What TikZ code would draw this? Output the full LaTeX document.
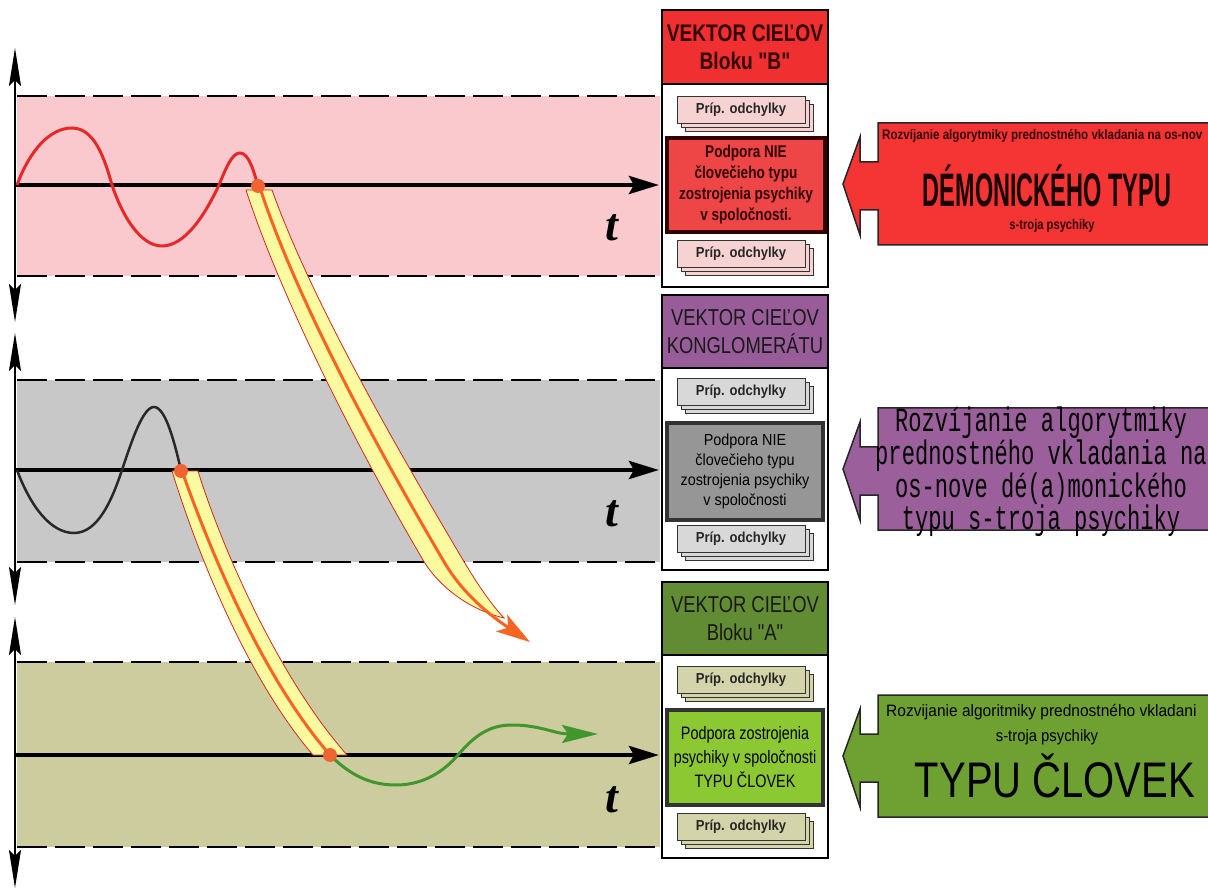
\documentclass[tikz,border=0pt]{standalone}
\usepackage{fontspec}
\setmainfont{Liberation Sans}
\newfontfamily\condA[FakeStretch=0.8]{Liberation Sans}
\newfontfamily\condB[FakeStretch=0.9]{Liberation Sans}
\newfontfamily\condC[FakeStretch=0.84]{Liberation Sans}
\newfontfamily\condD[FakeStretch=0.94]{Liberation Sans}
\newfontfamily\xcond[FakeStretch=0.5]{Liberation Sans}
\newfontfamily\monof[FakeStretch=0.65]{Liberation Mono}
\newfontfamily\tfont{Liberation Serif}
\usetikzlibrary{arrows.meta,shadows}
\definecolor{bandpink}{RGB}{249,201,205}
\definecolor{bandgray}{RGB}{200,200,200}
\definecolor{bandkhaki}{RGB}{204,204,158}
\definecolor{hdrred}{RGB}{240,48,48}
\definecolor{mainred}{RGB}{238,70,70}
\definecolor{devred}{RGB}{246,210,210}
\definecolor{hdrpurple}{RGB}{152,92,152}
\definecolor{maingray}{RGB}{150,150,150}
\definecolor{devgray}{RGB}{216,216,216}
\definecolor{hdrgreen}{RGB}{98,140,52}
\definecolor{maingreen}{RGB}{140,200,50}
\definecolor{devkhaki}{RGB}{212,212,170}
\definecolor{tubeyellow}{RGB}{252,250,160}
\definecolor{tubeorange}{RGB}{250,100,35}
\definecolor{tubered}{RGB}{210,40,30}
\definecolor{dotorange}{RGB}{240,100,50}
\definecolor{wavered}{RGB}{230,40,40}
\definecolor{wavegreen}{RGB}{65,150,45}
\definecolor{wavedark}{RGB}{40,40,40}
\definecolor{arrowred}{RGB}{245,52,52}
\definecolor{arrowpurple}{RGB}{155,95,155}
\definecolor{arrowgreen}{RGB}{110,160,50}
\definecolor{darkred}{RGB}{50,0,0}
\newcommand\blockarrowpath[1]{(843,#1+61) -- (860,#1+14) -- (860,#1+39) -- (878,#1+39) -- (878,#1) -- (1215,#1) -- (1215,#1+122) -- (878,#1+122) -- (878,#1+87) -- (860,#1+87) -- (860,#1+112) -- cycle}
\begin{document}
\begin{tikzpicture}[x=1pt,y=-1pt,
  dashline/.style={draw=black, line width=1.6pt, dash pattern=on 30pt off 8pt},
  yaxis/.style={line width=2.5pt, {Stealth[length=38pt,width=12pt,inset=6pt]}-{Stealth[length=38pt,width=12pt,inset=6pt]}},
  taxis/.style={line width=4.5pt, -{Stealth[length=30pt,width=18pt,inset=5pt]}},
  tube/.style={fill=tubeyellow, draw=tubered, line width=0.8pt},
  tubecore/.style={draw=tubeorange, line width=3pt},
  dot/.style={circle, fill=dotorange, inner sep=0pt, minimum size=14pt},
  outerbox/.style={draw=black, line width=2pt, fill=white, minimum width=166pt, inner sep=0pt},
  hdr/.style={draw=black, line width=2pt, minimum width=166pt, align=center, inner sep=0pt, font=\condA\fontsize{23}{28}\selectfont},
  mainbox/.style={line width=3.5pt, align=center, inner sep=0pt},
  devbox/.style={draw=black!80, line width=1pt, minimum width=128pt, minimum height=27pt, inner sep=0pt,
     double copy shadow={shadow xshift=4pt, shadow yshift=-4pt}, text=black!85,
     font=\condB\bfseries\fontsize{14.5}{16}\selectfont},
  tlabel/.style={font=\tfont\bfseries\itshape\fontsize{46}{46}\selectfont, inner sep=0pt},
  blockarrow/.style={draw=black!85, line width=1.5pt},
  wave/.style={line width=3pt}
]
\useasboundingbox (0,0) rectangle (1208,890);
\clip (0,0) rectangle (1208,890);
\fill[white] (0,0) rectangle (1208,890);

% bands
\fill[bandpink] (17,96) rectangle (660,276);
\fill[bandgray] (17,380) rectangle (660,562);
\fill[bandkhaki] (17,662) rectangle (660,847);
\foreach \yy in {96,276,380,562,662,847}
  \draw[dashline] (17,\yy) -- (660,\yy);

% axes
\coordinate (v1a) at (15,322); \coordinate (v1b) at (15,48);
\coordinate (v2a) at (15,605); \coordinate (v2b) at (15,333);
\coordinate (v3a) at (15,888); \coordinate (v3b) at (15,617);
\draw[yaxis] (v1a) -- (v1b);
\draw[yaxis] (v2a) -- (v2b);
\draw[yaxis] (v3a) -- (v3b);
\coordinate (h1a) at (15,185); \coordinate (h1b) at (659,185);
\coordinate (h2a) at (15,470); \coordinate (h2b) at (659,470);
\coordinate (h3a) at (15,755); \coordinate (h3b) at (659,755);
\draw[taxis] (h1a) -- (h1b);
\draw[taxis] (h2a) -- (h2b);
\draw[taxis] (h3a) -- (h3b);
\node[tlabel] (t1) at (612,228) {t};
\node[tlabel] (t2) at (612,514) {t};
\node[tlabel] (t3) at (612,800) {t};

% waves
\draw[wave, draw=wavered] (17,185) .. controls (30,150) and (50,128) .. (72,128)
  .. controls (95,128) and (105,160) .. (112,185)
  .. controls (122,215) and (140,246) .. (162,246)
  .. controls (185,246) and (205,215) .. (219,185)
  .. controls (226,168) and (232,153) .. (240,153)
  .. controls (249,153) and (254,172) .. (258,186);
\draw[wave, line width=2.5pt, draw=wavedark] (17,470) .. controls (30,505) and (50,533) .. (74,533)
  .. controls (98,533) and (112,500) .. (122,470)
  .. controls (132,440) and (143,407) .. (154,407)
  .. controls (166,407) and (175,445) .. (181,470);

% tube 1 (from d1, ends in an arrow)
\filldraw[tube] (246,190) .. controls (285,310) and (370,470) .. (423,560)
  .. controls (439,587) and (470,610) .. (504,618)
  .. controls (492,605) and (479,587) .. (463,560)
  .. controls (410,470) and (315,310) .. (272,190) -- cycle;
\draw[tubecore, -{Stealth[length=34pt,width=20pt,inset=8pt]}] (260,188) .. controls (300,310) and (390,470) .. (443,560)
  .. controls (460,590) and (485,612) .. (530,642);
% tube 2 (from d2 to d3)
\filldraw[tube] (172,471) .. controls (190,530) and (240,670) .. (313,755)
  -- (347,755) .. controls (272,670) and (216,530) .. (198,471) -- cycle;
\draw[tubecore] (182,471) .. controls (203,530) and (256,670) .. (330,755);

% green wave
\draw[wave, draw=wavegreen, -{Stealth[length=36pt,width=18pt,inset=6pt]}] (330,755) .. controls (350,775) and (370,785) .. (396,785)
  .. controls (425,785) and (445,770) .. (458,755)
  .. controls (475,735) and (490,725) .. (512,725)
  .. controls (540,725) and (555,734) .. (598,734);

% dots
\node[dot] (d1) at (258,186) {};
\node[dot] (d2) at (181,471) {};
\node[dot] (d3) at (330,755) {};

% box B
\node[outerbox, minimum height=277pt] (boxB) at (745,148.5) {};
\node[hdr, fill=hdrred, minimum height=74pt, text=darkred, font=\condA\bfseries\fontsize{24}{28}\selectfont] (hdrB) at (745,47) {VEKTOR CIEĽOV\\Bloku "B"};
\node[devbox, fill=devred] (devB1) at (741,110) {Príp. odchylky};
\node[mainbox, draw=black!80!red, fill=mainred, minimum width=158pt, minimum height=94pt, text=darkred,
  font=\condA\bfseries\fontsize{17}{21}\selectfont] (mainB) at (746,185) {Podpora NIE\\človečieho typu\\zostrojenia psychiky\\v spoločnosti.};
\node[devbox, fill=devred] (devB2) at (741,254) {Príp. odchylky};

% box K
\node[outerbox, minimum height=275pt] (boxK) at (745,432.5) {};
\node[hdr, fill=hdrpurple, minimum height=73pt, text=black!90] (hdrK) at (745,331.5) {VEKTOR CIEĽOV\\KONGLOMERÁTU};
\node[devbox, fill=devgray] (devK1) at (741,392) {Príp. odchylky};
\node[mainbox, draw=black!80, fill=maingray, minimum width=156pt, minimum height=97pt, text=black,
  font=\condB\fontsize{16}{20}\selectfont] (mainK) at (745,471.5) {Podpora NIE\\človečieho typu\\zostrojenia psychiky\\v spoločnosti};
\node[devbox, fill=devgray] (devK2) at (741,539) {Príp. odchylky};

% box A
\node[outerbox, minimum height=276pt] (boxA) at (745,720) {};
\node[hdr, fill=hdrgreen, minimum height=73pt, text=black!90] (hdrA) at (745,618.5) {VEKTOR CIEĽOV\\Bloku "A"};
\node[devbox, fill=devkhaki] (devA1) at (741,680) {Príp. odchylky};
\node[mainbox, draw=black!80, fill=maingreen, minimum width=156pt, minimum height=95pt, text=black,
  font=\condA\fontsize{18}{24}\selectfont] (mainA) at (745,757.5) {Podpora zostrojenia\\psychiky v spoločnosti\\TYPU ČLOVEK};
\node[devbox, fill=devkhaki] (devA2) at (741,827) {Príp. odchylky};

% block arrows
\filldraw[blockarrow, fill=arrowred] \blockarrowpath{123};
\node[anchor=west, inner sep=1pt, text=darkred, font=\condC\bfseries\fontsize{13.8}{16}\selectfont] (a1l1) at (881,136) {Rozvíjanie algorytmiky prednostného vkladania na os-nov};
\node[text=black!90!red, inner sep=0pt, font=\xcond\bfseries\fontsize{47}{47}\selectfont] (a1l2) at (1047,186) {DÉMONICKÉHO TYPU};
\node[text=darkred, inner sep=1pt, font=\condA\bfseries\fontsize{14}{16}\selectfont] (a1l3) at (1052,226) {s-troja psychiky};

\filldraw[blockarrow, fill=arrowpurple] \blockarrowpath{408};
\node[align=center, text=black, font=\monof\fontsize{34}{24.5}\selectfont] (a2t) at (1041,472) {Rozvíjanie algorytmiky\\prednostného vkladania na\\os-nove dé(a)monického\\typu s-troja psychiky};

\filldraw[blockarrow, fill=arrowgreen] \blockarrowpath{695};
\node[anchor=west, inner sep=1pt, text=black, font=\condD\fontsize{16.5}{18}\selectfont] (a3l1) at (885,712) {Rozvijanie algoritmiky prednostného vkladani};
\node[text=black, font=\condB\fontsize{16.5}{18}\selectfont] (a3l2) at (1047,737) {s-troja psychiky};
\node[text=black, font=\condA\fontsize{50}{50}\selectfont] (a3l3) at (1055,776) {TYPU ČLOVEK};
\end{tikzpicture}
\end{document}
